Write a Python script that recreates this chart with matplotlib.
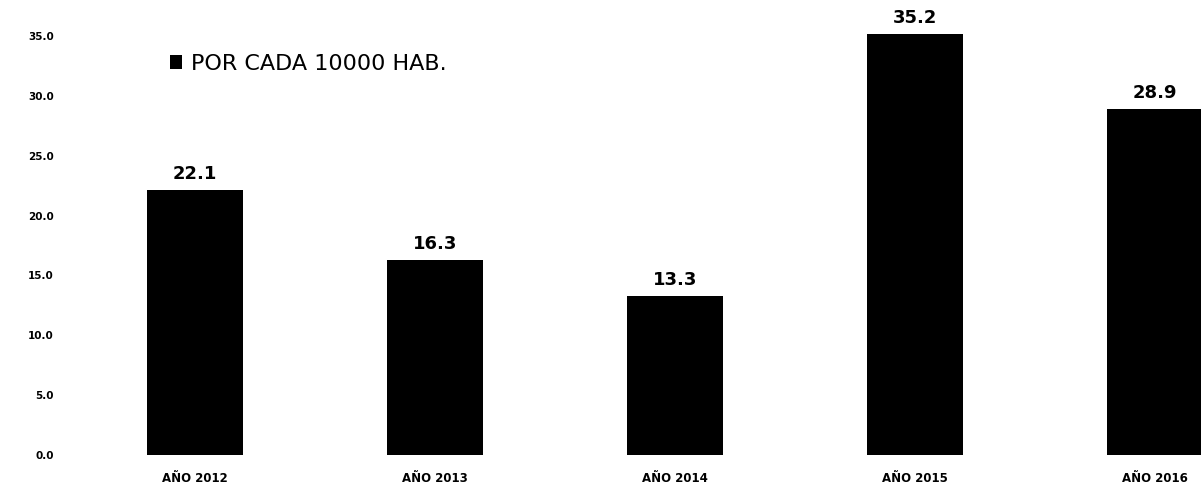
import matplotlib.pyplot as plt

# data
years = ["AÑO 2012", "AÑO 2013", "AÑO 2014", "AÑO 2015", "AÑO 2016"]
values = [22.1, 16.3, 13.3, 35.2, 28.9]
y_ticks = [0, 5, 10, 15, 20, 25, 30, 35]
series_name = "POR CADA 10000 HAB."

fig = plt.figure(figsize=(12.01, 4.97), dpi=100)
ax = fig.add_axes([62 / 1201, 42 / 497, 1 - 62 / 1201, 1 - 42 / 497])

x = range(len(years))
bars = ax.bar(x, values, width=0.4, color="black", label=series_name)

# value labels over each bar
for xi, v in zip(x, values):
    ax.annotate(f"{v:.1f}", (xi, v), xytext=(0, 5), textcoords="offset points",
                ha="center", va="bottom", fontsize=13, fontweight="bold",
                annotation_clip=False)

ax.set_xlim((62 - 195) / 240, (1201 - 195) / 240)
ax.set_ylim(0, 38.0)
ax.set_xticks(list(x))
ax.set_xticklabels(years, fontsize=8.5, fontweight="bold")
ax.set_yticks(y_ticks)
ax.set_yticklabels([f"{t:.1f}" for t in y_ticks], fontsize=7.5, fontweight="bold")
ax.tick_params(axis="both", length=0)
ax.tick_params(axis="x", pad=12)
ax.tick_params(axis="y", pad=6)
for s in ax.spines.values():
    s.set_visible(False)

ax.legend(loc="upper left", bbox_to_anchor=(150 / 1201, 1 - 34 / 497),
          bbox_transform=fig.transFigure, frameon=False, fontsize=16,
          handlelength=0.55, handleheight=0.55, handletextpad=0.4)

fig.savefig("out.png", dpi=100)
